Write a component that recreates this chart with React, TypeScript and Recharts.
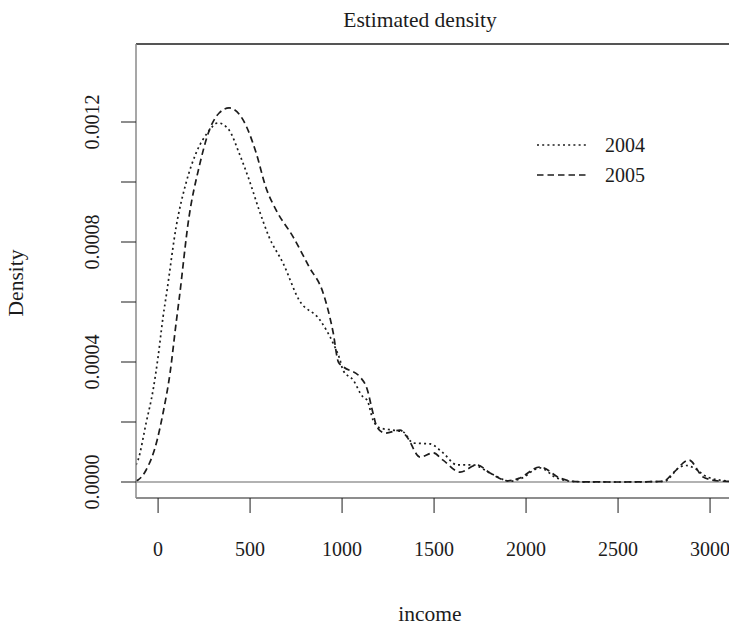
import React from 'react';
import { LineChart, Line, XAxis, YAxis, ReferenceLine } from 'recharts';

// ---- data ----
const incomeTicks = [0, 500, 1000, 1500, 2000, 2500, 3000];
const densityTicks = [0, 0.0002, 0.0004, 0.0006, 0.0008, 0.001, 0.0012];
const seriesNames = ['2004', '2005'];

const income2004 = [
  -120, -109, -65, -27, 0, 27, 49, 98, 152, 207, 272, 326, 386, 440, 495, 549, 603, 679, 766, 880,
  951, 989, 1005, 1060, 1114, 1136, 1168, 1207, 1277, 1332, 1386, 1478, 1549, 1625, 1712, 1804,
  1913, 1967, 2076, 2168, 2280, 2500, 2750, 2837, 2870, 2902, 2984, 3092, 3103,
];
const density2004 = [
  0.000057, 0.000073, 0.000197, 0.000307, 0.000417, 0.00055, 0.00064, 0.00085, 0.000997, 0.001097,
  0.001167, 0.001197, 0.001173, 0.001097, 0.001007, 0.000907, 0.000817, 0.00073, 0.000607, 0.00054,
  0.000463, 0.000407, 0.000373, 0.00034, 0.000283, 0.000273, 0.000207, 0.00018, 0.000173, 0.000167,
  0.00013, 0.000127, 0.000097, 0.000057, 0.000057, 0.00003, 0.000003, 0.00001, 0.000047, 0.000013,
  0.000001, 0.0, 0.000002, 0.00005, 0.000055, 0.00005, 0.000017, 0.000003, 0.000002,
];

const income2005 = [
  -120, -109, -65, -5, 27, 65, 98, 114, 168, 223, 277, 332, 386, 462, 533, 587, 641, 734, 821, 897,
  951, 980, 1005, 1098, 1136, 1168, 1190, 1234, 1315, 1353, 1424, 1495, 1549, 1641, 1734, 1804,
  1902, 1960, 2076, 2185, 2277, 2500, 2745, 2799, 2886, 2962, 3054, 3103,
];
const density2005 = [
  0.000004, 0.000007, 0.00004, 0.00014, 0.00023, 0.000363, 0.00053, 0.000607, 0.000883, 0.00105,
  0.00117, 0.00123, 0.001247, 0.001207, 0.001097, 0.00098, 0.000907, 0.000817, 0.000717, 0.00063,
  0.0005, 0.0004, 0.000385, 0.00035, 0.00031, 0.00023, 0.000183, 0.000163, 0.000173, 0.00015,
  0.000083, 0.000097, 0.000073, 0.000033, 0.000057, 0.00003, 0.000004, 0.000012, 0.00005, 0.000013,
  0.000001, 0.0, 0.000002, 0.00003, 0.000073, 0.000017, 0.000003, 0.000002,
];

const data2004 = income2004.map((x, i) => ({ income: x, density: density2004[i] }));
const data2005 = income2005.map((x, i) => ({ income: x, density: density2005[i] }));

const X_DOMAIN: [number, number] = [-120, 3103];
const Y_MIN = -0.0000533;
const Y_MAX = 0.00146;

const W = 729;
const H = 625;
const FONT = '"Liberation Serif", "Times New Roman", serif';
const INK = '#1c1c1c';
const DOT = '2 3.2';
const DASH = '6.5 4';

const XTick = (props: any) => {
  const { x, y, payload } = props;
  return (
    <text x={x} y={y + 34} textAnchor="middle" dominantBaseline="central" fontFamily={FONT} fontSize={20} fill={INK}>
      {payload.value}
    </text>
  );
};

const YTick = (props: any) => {
  const { x, y, payload } = props;
  const k = Math.round(payload.value / 0.0002);
  if (k % 2 !== 0) return <g />;
  const cx = x - 27;
  return (
    <text
      x={cx}
      y={y}
      transform={`rotate(-90 ${cx} ${y})`}
      textAnchor="middle"
      dominantBaseline="central"
      fontFamily={FONT}
      fontSize={20}
      fill={INK}
    >
      {payload.value.toFixed(4)}
    </text>
  );
};

export default function App() {
  return (
    <div style={{ position: 'absolute', left: 0, top: 0, width: W, height: H, background: '#fff' }}>
      <LineChart width={W} height={H} margin={{ top: 44, right: 0, bottom: 0, left: 0 }}>
        <XAxis
          dataKey="income"
          type="number"
          domain={X_DOMAIN}
          ticks={incomeTicks}
          allowDataOverflow
          height={127}
          tickSize={15}
          tickLine={{ stroke: INK }}
          axisLine={{ stroke: INK, strokeWidth: 1.2 }}
          tick={<XTick />}
        />
        <YAxis
          dataKey="density"
          type="number"
          domain={[Y_MIN, Y_MAX]}
          ticks={densityTicks}
          allowDataOverflow
          width={136}
          tickSize={15}
          tickLine={{ stroke: INK }}
          axisLine={{ stroke: '#8a8a8a', strokeWidth: 1.5 }}
          tick={<YTick />}
        />
        <ReferenceLine y={Y_MAX} stroke={INK} strokeWidth={1.4} />
        <ReferenceLine y={0} stroke="#666" strokeWidth={1.2} />
        <Line
          data={data2004}
          dataKey="density"
          name={seriesNames[0]}
          type="monotone"
          stroke={INK}
          strokeWidth={1.7}
          strokeDasharray={DOT}
          dot={false}
          isAnimationActive={false}
        />
        <Line
          data={data2005}
          dataKey="density"
          name={seriesNames[1]}
          type="monotone"
          stroke={INK}
          strokeWidth={1.7}
          strokeDasharray={DASH}
          dot={false}
          isAnimationActive={false}
        />
      </LineChart>
      <svg
        width={W}
        height={H}
        style={{ position: 'absolute', left: 0, top: 0, pointerEvents: 'none' }}
      >
        <text x={420} y={20} textAnchor="middle" dominantBaseline="central" fontFamily={FONT} fontSize={21.5} fill={INK}>
          Estimated density
        </text>
        <text
          x={16}
          y={283}
          transform="rotate(-90 16 283)"
          textAnchor="middle"
          dominantBaseline="central"
          fontFamily={FONT}
          fontSize={21.5}
          fill={INK}
        >
          Density
        </text>
        <text x={430} y={614} textAnchor="middle" dominantBaseline="central" fontFamily={FONT} fontSize={21.5} fill={INK}>
          income
        </text>
        <line x1={537} x2={589} y1={145} y2={145} stroke={INK} strokeWidth={1.7} strokeDasharray={DOT} />
        <line x1={537} x2={589} y1={175} y2={175} stroke={INK} strokeWidth={1.7} strokeDasharray={DASH} />
        <text x={605} y={145} dominantBaseline="central" fontFamily={FONT} fontSize={20} fill={INK}>
          {seriesNames[0]}
        </text>
        <text x={605} y={175} dominantBaseline="central" fontFamily={FONT} fontSize={20} fill={INK}>
          {seriesNames[1]}
        </text>
      </svg>
    </div>
  );
}
